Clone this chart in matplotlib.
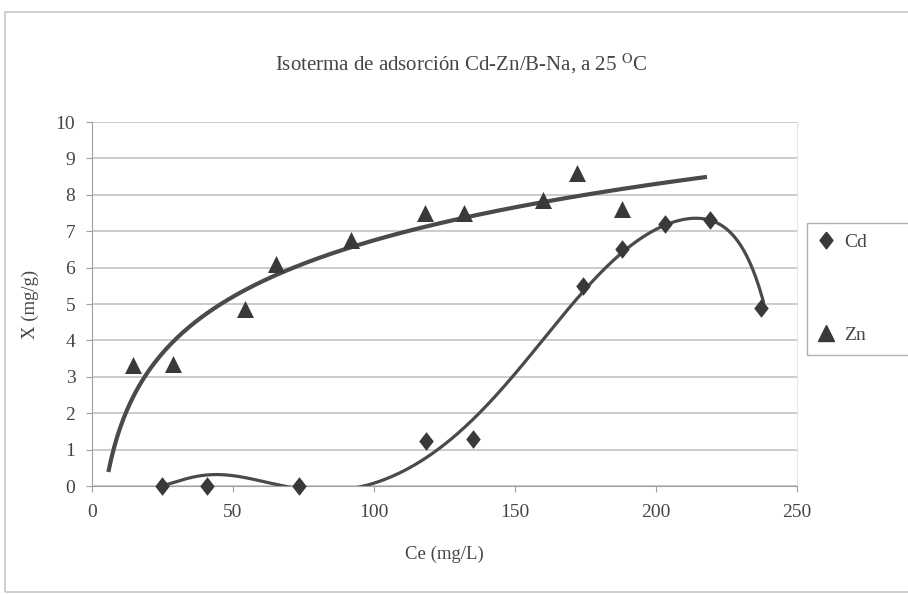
import numpy as np
import matplotlib
matplotlib.use("Agg")
import matplotlib.pyplot as plt
from matplotlib.lines import Line2D
from numpy.polynomial import Polynomial

plt.rcParams['font.family'] = ['Liberation Serif', 'DejaVu Serif']
plt.rcParams['mathtext.fontset'] = 'stix'

cd_x = [24.7, 40.6, 73.4, 118.5, 135, 174, 188, 203, 219, 237]
cd_y = [0.0, 0.0, 0.0, 1.25, 1.3, 5.5, 6.5, 7.2, 7.3, 4.9]
zn_x = [14.6, 28.6, 54.4, 65.2, 91.7, 118, 132, 160, 172, 188]
zn_y = [3.33, 3.36, 4.85, 6.1, 6.75, 7.5, 7.5, 7.85, 8.6, 7.6]

# trendlines (log for Zn, polynomial for Cd;
# the Cd curve dips under the axis between ~71 and ~95, so it is hidden there)
zn_trend_x = [5.8, 50, 118, 187, 218]
zn_trend_y = [0.42, 5.15, 7.05, 8.11, 8.62]
cd_trend_x = [25, 33, 45, 60.6, 71, 83, 95, 118.5, 135, 149, 160, 173, 189, 203.5, 210.5, 220, 228, 232, 236.5, 238]
cd_trend_y = [0.0, 0.22, 0.27, 0.15, 0.0, -0.2, 0.0, 0.79, 1.84, 2.95, 4.05, 5.27, 6.45, 7.18, 7.35, 7.3, 6.75, 6.36, 5.54, 5.0]

mk = '#393939'
ln = '#4a4a4a'
grid = '#c4c4c4'
txt = '#454545'

fig = plt.figure(figsize=(9.08, 5.94), dpi=100)
ax = fig.add_axes([0.1013, 0.1818, 0.7767, 0.6128])

a, b = np.polyfit(np.log(zn_trend_x), zn_trend_y, 1)
xz = np.linspace(min(zn_trend_x), max(zn_trend_x), 200)
ax.plot(xz, a*np.log(xz)+b, color=ln, lw=3.0, zorder=2, solid_capstyle='butt')

cd_fit = Polynomial.fit(cd_trend_x, cd_trend_y, 9)
xc = np.linspace(25, 238, 400)
ax.plot(xc, cd_fit(xc), color=ln, lw=2.3, zorder=2)

diamond = [(0, 1), (0.78, 0), (0, -1), (-0.78, 0), (0, 1)]
ax.scatter(cd_x, cd_y, marker=diamond, s=180, color=mk, zorder=3, linewidths=0, clip_on=False)
ax.scatter(zn_x, zn_y, marker='^', s=150, color=mk, zorder=3, linewidths=0)

ax.set_xlim(0, 250)
ax.set_ylim(0, 10)
ax.set_xticks(range(0, 251, 50))
ax.set_yticks(range(0, 11))
ax.grid(axis='y', color=grid, lw=1.2)
ax.set_axisbelow(True)
ax.spines['top'].set_visible(False)
ax.spines['right'].set_color('#e4e4e4')
ax.spines['left'].set_color('#a0a0a0')
ax.spines['bottom'].set_color('#a0a0a0')
ax.tick_params(colors='#a0a0a0', labelcolor=txt, labelsize=14, length=4)
ax.tick_params(axis='x', pad=9)
ax.tick_params(axis='y', pad=8)
for t in ax.get_xticklabels() + ax.get_yticklabels():
    t.set_fontstretch('condensed')

ax.set_xlabel('Ce (mg/L)', fontsize=13.5, color=txt, labelpad=18)
ax.set_ylabel('X (mg/g)', fontsize=13.5, color=txt, labelpad=12)
fig.text(0.508, 0.892, r'Isoterma de adsorción Cd-Zn/B-Na, a 25 $^{\rm O}$C',
         ha='center', va='center', fontsize=15, color=txt)

handles = [Line2D([], [], marker=diamond, ls='', color=mk, markersize=12),
           Line2D([], [], marker='^', ls='', color=mk, markersize=12)]
leg = fig.legend(handles, ['Cd', 'Zn'], loc='center left',
                 bbox_to_anchor=(0.878, 0.514), frameon=False, fontsize=14,
                 labelspacing=3.9, handletextpad=0.3, handlelength=1.2)
for t in leg.get_texts():
    t.set_color(txt)
# legend frame runs off the right edge, as in the original
fig.patches.append(plt.Rectangle((0.889, 0.4024), 0.2, 0.2222, transform=fig.transFigure,
                                 fill=False, edgecolor='#b0b0b0', lw=1.0))

# outer chart border
fig.patches.append(plt.Rectangle((0.006, 0.004), 1.2, 0.976, transform=fig.transFigure,
                                 fill=False, edgecolor='#c8c8c8', lw=1.2))

fig.savefig('out.png', dpi=100)
